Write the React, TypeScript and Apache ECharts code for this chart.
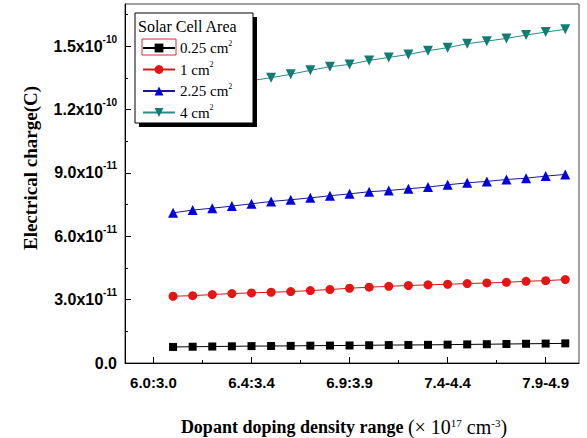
import React, { useEffect, useRef } from 'react';
import * as echarts from 'echarts';

// x positions of the 21 data points (tick "6.0:3.0" sits at 0, one tick every 5 points)
const xPoints = [1, 2, 3, 4, 5, 6, 7, 8, 9, 10, 11, 12, 13, 14, 15, 16, 17, 18, 19, 20, 21];
const xTickValues = [0, 5, 10, 15, 20];
const xTickLabels = ['6.0:3.0', '6.4:3.4', '6.9:3.9', '7.4-4.4', '7.9-4.9'];
const xMinorTickValues = [2.5, 7.5, 12.5, 17.5];

const yTickValues = [0, 3e-11, 6e-11, 9e-11, 1.2e-10, 1.5e-10];
const yMinorTickValues = [1.5e-11, 4.5e-11, 7.5e-11, 1.05e-10, 1.35e-10, 1.65e-10];

const areaNames = ['0.25 cm²', '1 cm²', '2.25 cm²', '4 cm²'];

const charge025 = [7.6e-12, 7.7e-12, 7.8e-12, 7.9e-12, 8.0e-12, 8.05e-12, 8.1e-12, 8.2e-12, 8.25e-12, 8.3e-12, 8.4e-12,
  8.5e-12, 8.55e-12, 8.6e-12, 8.7e-12, 8.8e-12, 8.9e-12, 9.0e-12, 9.1e-12, 9.2e-12, 9.3e-12];
const charge1 = [3.16e-11, 3.19e-11, 3.24e-11, 3.29e-11, 3.32e-11, 3.35e-11, 3.38e-11, 3.43e-11, 3.48e-11, 3.54e-11, 3.59e-11,
  3.63e-11, 3.67e-11, 3.70e-11, 3.73e-11, 3.76e-11, 3.79e-11, 3.82e-11, 3.87e-11, 3.90e-11, 3.95e-11];
const charge225 = [7.11e-11, 7.24e-11, 7.33e-11, 7.43e-11, 7.54e-11, 7.65e-11, 7.73e-11, 7.82e-11, 7.92e-11, 8.01e-11, 8.11e-11,
  8.17e-11, 8.25e-11, 8.33e-11, 8.44e-11, 8.53e-11, 8.60e-11, 8.69e-11, 8.75e-11, 8.85e-11, 8.93e-11];
const charge4 = [1.278e-10, 1.293e-10, 1.308e-10, 1.323e-10, 1.337e-10, 1.351e-10, 1.367e-10, 1.386e-10, 1.403e-10, 1.414e-10, 1.433e-10,
  1.447e-10, 1.461e-10, 1.479e-10, 1.493e-10, 1.512e-10, 1.524e-10, 1.537e-10, 1.553e-10, 1.567e-10, 1.580e-10];

const SANS = 'Liberation Sans';
const SERIF = 'Liberation Serif';

export default function App() {
  const ref = useRef<HTMLDivElement>(null);

  useEffect(() => {
    if (!ref.current) return;
    const chart = echarts.init(ref.current, null, { renderer: 'svg' });
    const pts = (vals: number[]) => xPoints.map((x, i) => [x, vals[i]]);

    const option: any = {
      animation: false,
      backgroundColor: '#fff',
      grid: { left: 125, top: 4, right: 8, bottom: 75, show: true, borderColor: '#444', borderWidth: 1 },
      xAxis: [
        {
          type: 'value', min: -1.45, max: 21.7,
          axisLine: { show: true, onZero: false, lineStyle: { color: '#000', width: 1 } },
          axisTick: { show: true, inside: true, length: 6, customValues: xTickValues, lineStyle: { color: '#000' } },
          axisLabel: {
            customValues: xTickValues,
            formatter: (v: number) => xTickLabels[xTickValues.indexOf(Math.round(v))] ?? '',
            fontFamily: SANS, fontSize: 15, fontWeight: 'bold', color: '#000', margin: 12,
          },
          splitLine: { show: false },
        },
        {
          type: 'value', min: -1.45, max: 21.7, position: 'bottom',
          axisLine: { show: false, onZero: false },
          axisTick: { show: true, inside: true, length: 3, customValues: xMinorTickValues, lineStyle: { color: '#000' } },
          axisLabel: { show: false },
          splitLine: { show: false },
        },
      ],
      yAxis: [
        {
          type: 'value', min: 0, max: 1.7e-10,
          axisLine: { show: true, onZero: false, lineStyle: { color: '#000', width: 1 } },
          axisTick: { show: true, inside: true, length: 6, customValues: yTickValues, lineStyle: { color: '#000' } },
          axisLabel: {
            customValues: yTickValues,
            formatter: (v: number) => {
              if (Math.abs(v) < 1e-20) return '{m|0.0}';
              const [mant, exp] = v.toExponential(1).split('e');
              return `{m|${mant}x10}{s|${exp}}`;
            },
            margin: 8,
            rich: {
              m: { fontFamily: SANS, fontSize: 16, fontWeight: 'bold', color: '#000', lineHeight: 24 },
              s: { fontFamily: SANS, fontSize: 10, fontWeight: 'bold', color: '#000', lineHeight: 8, verticalAlign: 'top' },
            },
          },
          splitLine: { show: false },
        },
        {
          type: 'value', min: 0, max: 1.7e-10, position: 'left',
          axisLine: { show: false, onZero: false },
          axisTick: { show: true, inside: true, length: 3, customValues: yMinorTickValues, lineStyle: { color: '#000' } },
          axisLabel: { show: false },
          splitLine: { show: false },
        },
      ],
      legend: {
        orient: 'vertical', left: 142, top: 39, padding: 0,
        itemWidth: 32, itemHeight: 11, itemGap: 5, z: 6,
        selectedMode: false,
        data: areaNames,
        formatter: (name: string) => `{t|${name.replace('²', '')}}{s|2}`,
        textStyle: {
          fontFamily: SERIF, fontSize: 14, color: '#000',
          rich: {
            t: { fontFamily: SERIF, fontSize: 15, color: '#000', lineHeight: 18 },
            s: { fontFamily: SERIF, fontSize: 8, color: '#000', lineHeight: 8, verticalAlign: 'top' },
          },
        },
      },
      graphic: [
        { type: 'rect', shape: { x: 139, y: 17, width: 118, height: 110 }, style: { fill: '#000' }, z: 3 },
        { type: 'rect', shape: { x: 135, y: 13, width: 118, height: 110 }, style: { fill: '#fff', stroke: '#000', lineWidth: 1 }, z: 4 },
        {
          type: 'text', x: 138, y: 26, z: 7,
          style: { text: 'Solar Cell Area', fontFamily: SERIF, fontSize: 16, fill: '#000', align: 'left', verticalAlign: 'middle' },
        },
        { type: 'rect', shape: { x: 142, y: 39, width: 34, height: 16 }, style: { fill: 'none', stroke: '#d03030', lineWidth: 1 }, z: 7 },
        {
          type: 'text', x: 30, y: 168, rotation: Math.PI / 2, z: 7,
          style: { text: 'Electrical charge(C)', fontFamily: SERIF, fontSize: 19, fontWeight: 'bold', fill: '#000', align: 'center', verticalAlign: 'middle' },
        },
        {
          type: 'text', x: 344, y: 427, z: 7,
          style: {
            text: '{b|Dopant doping density range }{r|(× 10}{p|17}{r| cm}{p|-3}{r|)}',
            align: 'center', verticalAlign: 'middle',
            rich: {
              b: { fontFamily: SERIF, fontSize: 18, fontWeight: 'bold', fill: '#000', lineHeight: 20 },
              r: { fontFamily: SERIF, fontSize: 20, fill: '#000', lineHeight: 20 },
              p: { fontFamily: SERIF, fontSize: 11, fill: '#000', lineHeight: 10, verticalAlign: 'top' },
            },
          },
        },
      ],
      series: [
        {
          type: 'line', name: areaNames[0], data: pts(charge025), symbol: 'rect', symbolSize: 8,
          itemStyle: { color: '#000' }, lineStyle: { color: '#000', width: 1 }, z: 2,
        },
        {
          type: 'line', name: areaNames[1], data: pts(charge1), symbol: 'circle', symbolSize: 9,
          itemStyle: { color: '#e81414' }, lineStyle: { color: '#d01818', width: 1 }, z: 2,
        },
        {
          type: 'line', name: areaNames[2], data: pts(charge225), symbol: 'triangle', symbolSize: 10,
          itemStyle: { color: '#0000e0' }, lineStyle: { color: '#1a1a8c', width: 1 }, z: 2,
        },
        {
          type: 'line', name: areaNames[3], data: pts(charge4), symbol: 'triangle', symbolRotate: 180, symbolSize: 10,
          itemStyle: { color: '#107c74' }, lineStyle: { color: '#2a8a84', width: 1 }, z: 2,
        },
      ],
    };
    chart.setOption(option);
    return () => chart.dispose();
  }, []);

  return <div ref={ref} style={{ position: 'fixed', left: 0, top: 0, width: 587, height: 438 }} />;
}
